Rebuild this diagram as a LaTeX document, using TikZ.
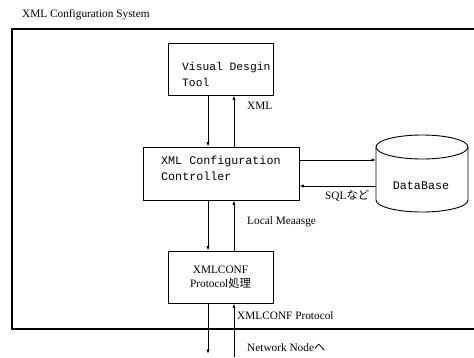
\documentclass[tikz,border=0pt]{standalone}
\usepackage{fontspec}
\setmainfont{Liberation Serif}
\setmonofont{Liberation Mono}
\newfontfamily\cjk{Noto Sans CJK JP}
\usetikzlibrary{arrows.meta,calc}
\begin{document}
\begin{tikzpicture}[x=1pt,y=-1pt,
  boxline/.style={draw,line width=0.9pt,inner sep=0pt},
  mono/.style={font=\fontsize{11.7}{16}\selectfont\ttfamily,inner sep=0pt,align=left},
  lbl/.style={font=\fontsize{11.3}{13.5}\selectfont,inner sep=0pt,anchor=west},
  arr/.style={line width=0.8pt,-{Latex[length=4.5pt,width=3.2pt]}}]
\useasboundingbox (0,0) rectangle (474,357);
% title
\node[lbl] (title) at (22,15) {XML Configuration System};
% frame
\draw[line width=1.1pt] (480,29) -- (12,29) -- (12,329) -- (480,329);
% boxes
\node[boxline,minimum width=105,minimum height=52] (vis) at (220.5,69) {};
\node[mono,font=\fontsize{11.3}{16}\selectfont\ttfamily,anchor=west] (vist) at (182,74) {Visual Desgin\\Tool};
\node[boxline,minimum width=156,minimum height=53] (ctrl) at (221,173.5) {};
\node[mono,anchor=west] (ctrlt) at (161,168) {XML Configuration\\Controller};
\node[boxline,minimum width=105,minimum height=52,align=center,font=\fontsize{11.3}{13.5}\selectfont] (proto) at (220.5,277) {XMLCONF\\Protocol{\cjk 処理}};
% database cylinder
\draw[line width=0.9pt] (376,147) -- (376,200) arc[start angle=180,end angle=0,x radius=46,y radius=12] -- (468,147);
\draw[line width=0.9pt] (422,147) ellipse[x radius=46,y radius=12];
\node[mono] (db) at (421,186) {DataBase};
\coordinate (dbin) at (376,160);
\coordinate (dbout) at (376,186);
% vertical positions
\coordinate (xa) at (208,0);
\coordinate (xb) at (234,0);
\coordinate (netA) at (208,354);
\coordinate (netB) at (234,357);
% connectors
\draw[arr] (vis.south -| xa) -- (ctrl.north -| xa);
\draw[arr] (ctrl.north -| xb) -- (vis.south -| xb);
\draw[arr] (ctrl.east |- dbin) -- (dbin);
\draw[arr] (dbout) -- (ctrl.east |- dbout);
\draw[arr] (ctrl.south -| xa) -- (proto.north -| xa);
\draw[arr] (proto.north -| xb) -- (ctrl.south -| xb);
\draw[arr] (proto.south -| xa) -- (netA);
\draw[arr] (netB) -- (proto.south -| xb);
% labels
\node[lbl] (lxml) at (247,106) {XML};
\node[lbl] (lsql) at (325,196) {SQL{\cjk など}};
\node[lbl] (lloc) at (247,222) {Local Meaasge};
\node[lbl] (lprot) at (237,316) {XMLCONF Protocol};
\node[lbl] (lnet) at (247,348) {Network Node{\cjk へ}};
\end{tikzpicture}
\end{document}
